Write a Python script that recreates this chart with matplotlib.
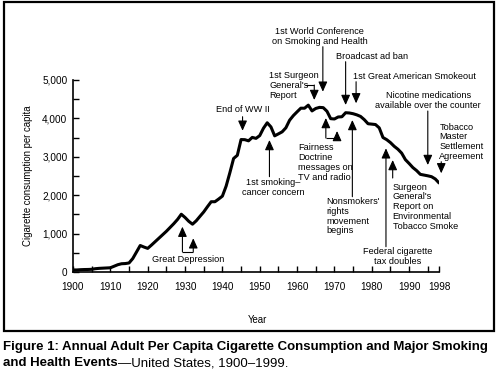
import matplotlib
matplotlib.use('Agg')
import matplotlib.pyplot as plt
from matplotlib.patches import Rectangle

plt.rcParams['font.family'] = ['Liberation Sans', 'DejaVu Sans']

# ---------------- data ----------------
years = list(range(1900, 1999))
consumption = [
    54, 53, 60, 64, 66, 70, 86, 95, 100, 105,          # 1900-1909
    110, 150, 190, 215, 220, 235, 350, 520, 690, 650,   # 1910-1919
    615, 700, 790, 880, 970, 1060, 1160, 1260, 1370, 1504,  # 1920-1929
    1420, 1320, 1245, 1334, 1450, 1564, 1700, 1830, 1830, 1900,  # 1930-1939
    1976, 2236, 2585, 2956, 3039, 3449, 3446, 3416, 3505, 3480,  # 1940-1949
    3552, 3744, 3886, 3778, 3546, 3597, 3650, 3755, 3953, 4073,  # 1950-1959
    4171, 4266, 4265, 4345, 4195, 4259, 4287, 4280, 4186, 3993,  # 1960-1969
    3985, 4037, 4043, 4148, 4141, 4122, 4092, 4051, 3967, 3861,  # 1970-1979
    3851, 3840, 3753, 3502, 3446, 3370, 3274, 3197, 3096, 2926,  # 1980-1989
    2826, 2720, 2641, 2543, 2524, 2505, 2482, 2423, 2320,        # 1990-1998
]
x_ticks = [1900, 1905, 1910, 1915, 1920, 1925, 1930, 1935, 1940, 1945,
           1950, 1955, 1960, 1965, 1970, 1975, 1980, 1985, 1990, 1995, 1998]
x_labeled = [1900, 1910, 1920, 1930, 1940, 1950, 1960, 1970, 1980, 1990, 1998]
y_ticks = list(range(0, 5001, 500))
y_labeled = [0, 1000, 2000, 3000, 4000, 5000]

ylabel = "Cigarette consumption per capita"
xlabel = "Year"
caption1 = "Figure 1: Annual Adult Per Capita Cigarette Consumption and Major Smoking"
caption2_bold = "and Health Events"
caption2_reg = "\u2014United States, 1900\u20131999."

# ---------------- figure ----------------
W, H = 500, 377
fig = plt.figure(figsize=(W / 100, H / 100), dpi=100)
fig.patch.set_facecolor('white')

def fx(px):
    return px / W

def fy(py):
    return 1 - py / H

ax = fig.add_axes([fx(73), fy(272), fx(439) - fx(73), fy(80) - fy(272)])
ax.plot(years, consumption, color='black', lw=2.2,
        solid_capstyle='round', solid_joinstyle='round', zorder=3)
ax.set_xlim(1900, 1998)
ax.set_ylim(0, 5000)
for s in ['top', 'right']:
    ax.spines[s].set_visible(False)
for s in ['left', 'bottom']:
    ax.spines[s].set_linewidth(1.2)

ax.set_xticks(x_ticks)
ax.set_xticklabels([str(t) if t in x_labeled else '' for t in x_ticks])
ax.set_yticks(y_ticks)
ax.set_yticklabels([f"{t:,}" if t in y_labeled else '' for t in y_ticks])
ax.tick_params(axis='x', direction='in', length=4, width=1, labelsize=7.2, pad=7)
ax.tick_params(axis='y', direction='in', length=4, width=1, labelsize=7.2, pad=4)

fig.text(fx(28), fy(176), ylabel, rotation=90, ha='center', va='center', fontsize=6.9)
fig.text(fx(257), fy(320), xlabel, ha='center', va='center', fontsize=6.9)

# ---------------- annotations ----------------
FS = 6.6
LS = 1.1

def arrow(x0, y0, x1, y1):
    ax.annotate('', xy=(x1, y1), xytext=(x0, y0), annotation_clip=False,
                arrowprops=dict(arrowstyle='-|>,head_length=0.6,head_width=0.27',
                                mutation_scale=10, lw=0.8, color='black',
                                shrinkA=0, shrinkB=0))

def seg(xs, ys):
    ax.plot(xs, ys, color='black', lw=0.8, clip_on=False, solid_capstyle='butt')

def label(x, y, s, ha='left'):
    ax.text(x, y, s, ha=ha, va='center', fontsize=FS, linespacing=LS,
            multialignment=ha if ha != 'center' else 'center', clip_on=False)

# Great Depression
label(1930.8, 331, "Great Depression", ha='center')
arrow(1929.3, 529, 1929.3, 1180)
seg([1929.3, 1932.2], [529, 529])
arrow(1932.2, 529, 1932.2, 878)

# End of WW II
label(1945.5, 4237, "End of WW II", ha='center')
arrow(1945.4, 4044, 1945.4, 3679)

# 1st smoking-cancer concern
label(1953.6, 2200, "1st smoking\u2013\ncancer concern", ha='center')
arrow(1952.6, 2482, 1952.6, 3437)

# 1st Surgeon General's Report
label(1952.6, 4857, "1st Surgeon\nGeneral's\nReport")
seg([1962.2, 1964.6], [4869, 4869])
arrow(1964.6, 4869, 1964.6, 4479)

# 1st World Conference
label(1966.1, 6127, "1st World Conference\non Smoking and Health", ha='center')
arrow(1966.9, 5867, 1966.9, 4695)

# Fairness Doctrine
label(1960.3, 2851, "Fairness\nDoctrine\nmessages on\nTV and radio")
arrow(1967.7, 3489, 1967.7, 4010)
seg([1967.7, 1970.7], [3489, 3489])
arrow(1970.7, 3489, 1970.7, 3672)

# Broadcast ad ban
label(1970.4, 5606, "Broadcast ad ban")
arrow(1973.0, 5476, 1973.0, 4349)

# 1st Great American Smokeout
label(1975.0, 5086, "1st Great American Smokeout")
arrow(1975.8, 4955, 1975.8, 4393)

# Nonsmokers' rights
label(1967.9, 1453, "Nonsmokers'\nrights\nmovement\nbegins")
arrow(1974.8, 1961, 1974.8, 3958)

# Federal cigarette tax doubles
label(1987.0, 409, "Federal cigarette\ntax doubles", ha='center')
arrow(1983.8, 659, 1983.8, 3221)

# Surgeon General's Report on ETS
label(1985.6, 1703, "Surgeon\nGeneral's\nReport on\nEnvironmental\nTobacco Smoke")
arrow(1985.6, 2448, 1985.6, 2916)

# Nicotine medications
label(1995.1, 4466, "Nicotine medications\navailable over the counter", ha='center')
arrow(1995.0, 4192, 1995.0, 2786)

# Tobacco Master Settlement Agreement
label(1998.1, 3393, "Tobacco\nMaster\nSettlement\nAgreement")
arrow(1998.6, 2872, 1998.6, 2570)

# ---------------- frame ----------------
fig.patches.append(Rectangle((fx(4), fy(331)), fx(494) - fx(4), fy(2) - fy(331),
                             transform=fig.transFigure, fill=False,
                             edgecolor='black', lw=1.6))

# ---------------- caption ----------------
renderer = fig.canvas.get_renderer()
t1 = fig.text(fx(3), fy(350), caption1, fontsize=10, fontweight='bold',
              ha='left', va='baseline')
w = t1.get_window_extent(renderer).width
fs = 10 * 485 / w
t1.set_fontsize(fs)
t2 = fig.text(fx(3), fy(366), caption2_bold, fontsize=fs, fontweight='bold',
              ha='left', va='baseline')
x_end = t2.get_window_extent(renderer).x1
fig.text(x_end / W, fy(366), caption2_reg, fontsize=fs, ha='left', va='baseline')

fig.savefig('out.png', dpi=100)
